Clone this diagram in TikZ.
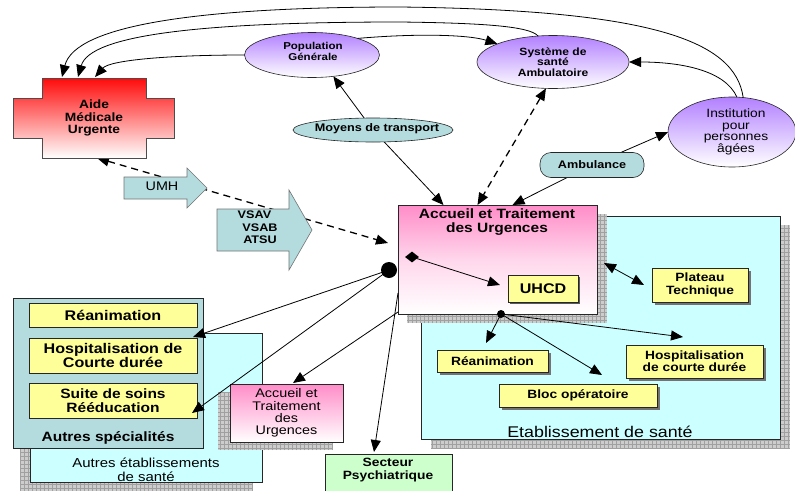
\documentclass[tikz,border=0pt]{standalone}
\usepackage{fontspec}
\setmainfont{Liberation Sans}[FakeStretch=1.15]
\usetikzlibrary{arrows.meta,shapes.geometric}
\pgfdeclarelayer{bg}
\pgfsetlayers{bg,main}
\definecolor{tealc}{RGB}{180,220,222}
\definecolor{cyanc}{RGB}{204,255,255}
\definecolor{ylwc}{RGB}{255,255,153}
\definecolor{grnc}{RGB}{204,255,204}
\definecolor{pnkc}{RGB}{255,140,200}
\definecolor{vioc}{RGB}{178,128,255}
\definecolor{redc}{RGB}{255,10,10}
\definecolor{shc}{RGB}{205,205,205}
\definecolor{shl}{RGB}{160,160,160}
\newcommand{\myfs}[2]{\fontsize{#1}{#2}\selectfont}
\newcommand{\gshadow}[4]{\fill[shc] (#1,#2) rectangle (#3,#4); \draw[shl, line width=0.3pt, step=4pt] (#1,#4) grid (#3,#2);}
\tikzset{
  bx/.style={draw=black!85, line width=0.6pt, inner sep=0pt, outer sep=0pt, align=center},
  yb/.style={bx, fill=ylwc},
  el/.style={ellipse, draw=black!85, line width=0.6pt, inner sep=0pt, outer sep=0pt, align=center},
  vel/.style={el, top color=vioc, bottom color=white},
  txt/.style={inner sep=0pt, outer sep=0pt, align=center},
  ln/.style={line width=0.8pt},
  dsh/.style={line width=1.3pt, dash pattern=on 7pt off 5pt},
  blk/.style={fill=tealc, draw=black!55, line width=0.6pt},
}
\begin{document}
\begin{tikzpicture}[x=1pt,y=-1pt,>={Triangle[length=12pt,width=10pt]}]
\useasboundingbox (0,0) rectangle (795,490);

% AMU cross
\shadedraw[top color=redc, bottom color=white, draw=black!70, line width=0.6pt]
  (42,78) -- (146,78) -- (146,98) -- (174,98) -- (174,138) -- (146,138) -- (146,158)
  -- (42,158) -- (42,138) -- (13,138) -- (13,98) -- (42,98) -- cycle;
\node[txt, minimum width=104pt, minimum height=80pt, font=\bfseries\myfs{12}{12.5}] (amu) at (94,118) {Aide\\Médicale\\Urgente};

% ellipses
\node[vel, minimum width=135pt, minimum height=45pt] (pop) at (312,55) {};
\node[txt, font=\bfseries\myfs{10}{11}] (poptxt) at (313,51) {Population\\Générale};
\node[vel, minimum width=152pt, minimum height=53pt, font=\bfseries\myfs{10.5}{10.5}] (sys) at (553,62) {Système de\\santé\\Ambulatoire};
\node[vel, minimum width=128pt, minimum height=70pt] (inst) at (732,132) {};
\node[txt, font=\myfs{12}{11.5}] (insttxt) at (736,132) {Institution\\pour\\personnes\\âgées};

\node[el, fill=tealc, minimum width=160pt, minimum height=24pt] (moy) at (373,130) {};
\node[txt, font=\bfseries\myfs{11}{12}] (moytxt) at (377,129) {Moyens de transport};
\node[bx, fill=tealc, rounded corners=11pt, minimum width=104pt, minimum height=25pt, font=\bfseries\myfs{11}{12}] (amb) at (592,165) {Ambulance};

% block arrows
\filldraw[blk] (124,177) -- (187,177) -- (187,168) -- (207,188) -- (187,208) -- (187,199) -- (124,199) -- cycle;
\node[txt, font=\myfs{12.5}{13}] (umh) at (162,186) {UMH};
\filldraw[blk] (217,209) -- (289,209) -- (289,190) -- (312,230) -- (289,270) -- (289,251) -- (217,251) -- cycle;
\node[txt, font=\bfseries\myfs{11}{12}] (vsav) at (254.5,215) {VSAV};
\node[txt, font=\bfseries\myfs{11}{12}] (vsab) at (260,228) {VSAB};
\node[txt, font=\bfseries\myfs{11}{12}] (atsu) at (260,240) {ATSU};

% Etablissement de sante
\gshadow{431}{448}{790}{225}
\node[bx, fill=cyanc, minimum width=359pt, minimum height=223pt] (etab) at (600.5,327.5) {};
\node[txt, font=\myfs{15.5}{16}] (etabtxt) at (600,432) {Etablissement de santé};
\gshadow{407}{323}{607}{214}
\node[bx, top color=pnkc, bottom color=white, middle color=pnkc!35!white, minimum width=199pt, minimum height=109pt] (atu) at (497.5,259.5) {};
\node[txt, font=\bfseries\myfs{13.5}{14}] (atutxt) at (497,222) {Accueil et Traitement\\des Urgences};

\fill[black!65] (510,277) rectangle (580,304);
\node[yb, minimum width=70pt, minimum height=27pt, font=\bfseries\myfs{14}{15}] (uhcd) at (543,288.5) {UHCD};
\fill[black!55] (655,271) rectangle (751,305);
\node[yb, minimum width=96pt, minimum height=34pt, font=\bfseries\myfs{12}{12.5}] (plat) at (700,285) {Plateau\\Technique};
\fill[black!55] (440,353) rectangle (551,375);
\node[yb, minimum width=111pt, minimum height=22pt, font=\bfseries\myfs{12}{12}] (rea2) at (492.5,361) {Réanimation};
\fill[black!55] (629,348) rectangle (766,381);
\node[yb, minimum width=137pt, minimum height=33pt, font=\bfseries\myfs{12}{12}] (hosp2) at (694.5,361.5) {Hospitalisation\\de courte durée};
\fill[black!55] (502,387) rectangle (660,410);
\node[yb, minimum width=158pt, minimum height=23pt, font=\bfseries\myfs{12}{12}] (bloc) at (578,395.5) {Bloc opératoire};

% left group
\gshadow{20}{492}{252}{341}
\node[bx, fill=cyanc, minimum width=232pt, minimum height=149pt] (autres) at (146,407.5) {};
\node[txt, font=\myfs{13}{13.5}] (autrestxt) at (146,470) {Autres établissements\\de santé};
\node[bx, fill=tealc, minimum width=190pt, minimum height=150pt] (spec) at (108,373) {};
\node[txt, font=\bfseries\myfs{13.5}{14}] (spectxt) at (108,438) {Autres spécialités};
\node[yb, minimum width=168pt, minimum height=24pt, font=\bfseries\myfs{14}{14}] (rea1) at (113,315) {Réanimation};
\node[yb, minimum width=168pt, minimum height=35pt, font=\bfseries\myfs{14}{14}] (hosp1) at (113,355.5) {Hospitalisation de\\Courte durée};
\node[yb, minimum width=168pt, minimum height=35pt, font=\bfseries\myfs{13.5}{13.5}] (suite) at (113,400.5) {Suite de soins\\Rééducation};

\gshadow{218}{450}{333}{392}
\node[bx, top color=pnkc, bottom color=white, minimum width=113pt, minimum height=58pt, font=\myfs{12.5}{12.3}] (acc2) at (286.5,413) {Accueil et\\Traitement\\des\\Urgences};

\node[bx, fill=grnc, minimum width=127pt, minimum height=40pt] (sect) at (388.5,474) {};
\node[txt, font=\bfseries\myfs{12}{13}] (secttxt) at (388,470) {Secteur\\Psychiatrique};

% dots
\node[circle, fill=black, inner sep=0pt, minimum size=16pt] (bigdot) at (389,270) {};
\node[circle, fill=black, inner sep=0pt, minimum size=8pt] (sdot) at (501,314) {};
\node[diamond, fill=black, inner sep=0pt, minimum width=14pt, minimum height=11pt] (dia) at (412,257) {};

% background connectors
\begin{pgfonlayer}{bg}
\fill[white] (0,0) rectangle (795,490);
\draw[ln,<->] (pop.-45) -- (moy.center) -- ([xshift=-54pt]atu.north);
\draw[ln,<->] (inst.west) -- (amb.center) -- ([xshift=15pt]atu.north);
\draw[dsh,<->] ([xshift=3pt]amu.south) -- ([xshift=-10pt,yshift=16.5pt]atu.west);
\end{pgfonlayer}

% top curves
\draw[ln,->] (inst.72) .. controls (735,40) and (650,10) .. (400,7) .. controls (200,7) and (75,25) .. ([xshift=-32pt,yshift=1pt]amu.north);
\draw[ln,->] (sys.120) .. controls (530,26) and (480,23) .. (400,22) .. controls (200,22) and (90,35) .. ([xshift=-16pt,yshift=1pt]amu.north);
\draw[ln,->] (pop.west) .. controls (170,55) and (110,60) .. ([xshift=1pt,yshift=1pt]amu.north);
\draw[ln,->] (pop.20) .. controls (420,33) and (470,35) .. (sys.162);
\draw[ln,->] (inst.82) .. controls (725,70) and (680,62) .. (sys.east);

\draw[dsh,<->] (sys.-105) -- ([xshift=-20pt]atu.north);

% inner connectors
\draw[ln,->] (dia.center) -- ([xshift=-8pt,yshift=3.5pt]uhcd.west);
\draw[ln,<->] ([xshift=7pt,yshift=-3.5pt]atu.east) -- ([xshift=-8pt]plat.west);
\draw[ln,->] (sdot.center) -- ([xshift=-6.5pt,yshift=7pt]rea2.north);
\draw[ln,->] (sdot.center) -- ([xshift=24pt,yshift=9pt]bloc.north);
\draw[ln,->] (sdot.center) -- ([xshift=-11.5pt,yshift=8pt]hosp2.north);
\draw[ln,->] (bigdot.center) -- ([xshift=-4pt,yshift=-10pt]rea1.south east);
\draw[ln,->] (bigdot.center) -- ([xshift=-5pt,yshift=-12.5pt]suite.east);
\draw[ln,->] ([yshift=2pt]atu.south west) -- ([xshift=6.5pt,yshift=1pt]acc2.north);
\draw[ln,->] ([yshift=-33.5pt]atu.west) -- ([xshift=-14.5pt,yshift=2pt]sect.north);
\end{tikzpicture}
\end{document}
